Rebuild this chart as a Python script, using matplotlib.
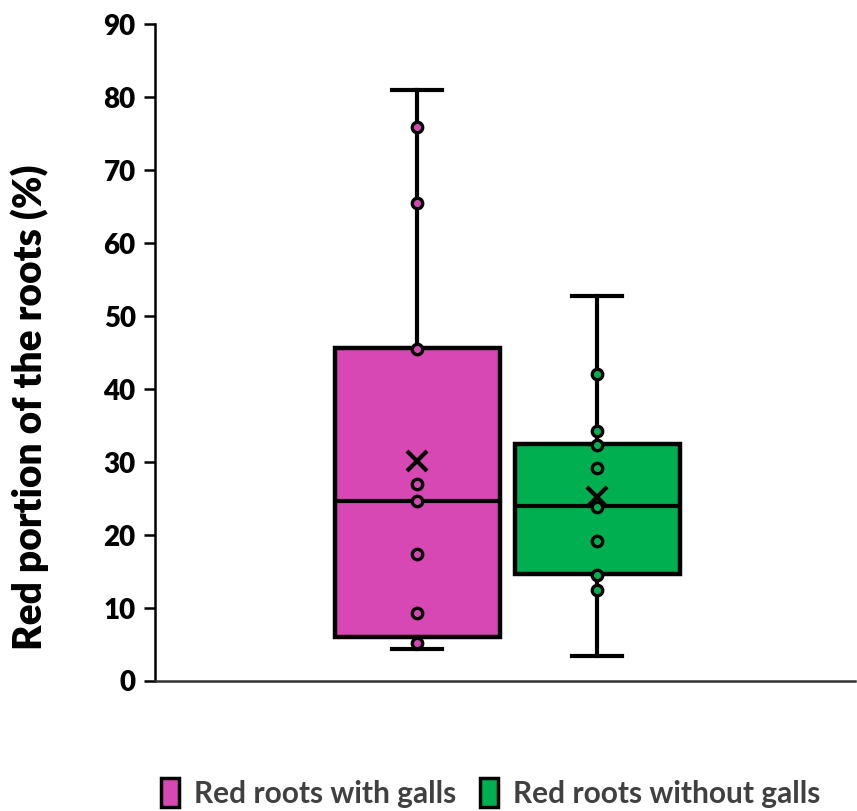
import matplotlib.pyplot as plt

plt.rcParams['font.family'] = ['Lato', 'DejaVu Sans']

# data
groups = ['Red roots with galls', 'Red roots without galls']
colors = ['#D748B4', '#00B050']
whislo = [4.4, 3.4]
q1 = [6.0, 14.7]
med = [24.7, 24.0]
q3 = [45.6, 32.5]
whishi = [81.0, 52.8]
means = [30.2, 25.2]
points_galls = [75.9, 65.5, 45.5, 27.0, 24.7, 17.4, 9.3, 5.2]
points_no_galls = [42.0, 34.2, 32.3, 29.2, 23.8, 19.2, 14.5, 12.5]
yticks = [0, 10, 20, 30, 40, 50, 60, 70, 80, 90]

fig = plt.figure(figsize=(8.57, 8.11), dpi=100)
ax = fig.add_axes([0.181, 0.1603, 0.817, 0.810])

stats = []
for i in range(2):
    stats.append({'whislo': whislo[i], 'q1': q1[i], 'med': med[i],
                  'q3': q3[i], 'whishi': whishi[i], 'fliers': []})

pos = [1, 2]
bp = ax.bxp(stats, positions=pos, widths=0.917, patch_artist=True,
            showfliers=False, capwidths=0.28,
            boxprops=dict(linewidth=3.2, edgecolor='black'),
            medianprops=dict(color='black', linewidth=3),
            whiskerprops=dict(color='black', linewidth=3),
            capprops=dict(color='black', linewidth=3))
for patch, c in zip(bp['boxes'], colors):
    patch.set_facecolor(c)

for p, pts, c in zip(pos, [points_galls, points_no_galls], colors):
    ax.plot([p] * len(pts), pts, 'o', markersize=7.5, markerfacecolor=c,
            markeredgecolor='black', markeredgewidth=2.4, zorder=5)

ax.plot(pos, means, 'x', color='black', markersize=15, markeredgewidth=3, zorder=6)

ax.set_xlim(-0.456, 3.433)
ax.set_ylim(0, 90)
ax.set_yticks(yticks)
ax.set_xticks([])
for s in ['top', 'right']:
    ax.spines[s].set_visible(False)
ax.spines['left'].set_linewidth(1.8)
ax.spines['bottom'].set_linewidth(1.8)
ax.spines['bottom'].set_color('#333333')
ax.tick_params(axis='y', length=8, width=1.8, labelsize=20, pad=6)
for lab in ax.get_yticklabels():
    lab.set_fontweight('heavy')

ax.set_ylabel('Red portion of the roots (%)', fontsize=28, fontweight='heavy', va='center')
ax.yaxis.set_label_coords(-0.179, 0.417)

handles = [plt.Rectangle((0, 0), 1, 1, facecolor=c, edgecolor='black', linewidth=2.5) for c in colors]
leg = fig.legend(handles, groups, loc='center', bbox_to_anchor=(0.573, 0.022),
                 ncol=2, frameon=False, fontsize=21.5, handlelength=0.6, handleheight=1.1,
                 handletextpad=0.5, columnspacing=0.8)
for t in leg.get_texts():
    t.set_color('#404040')
    t.set_fontweight('bold')

fig.savefig('out.png', dpi=100)
